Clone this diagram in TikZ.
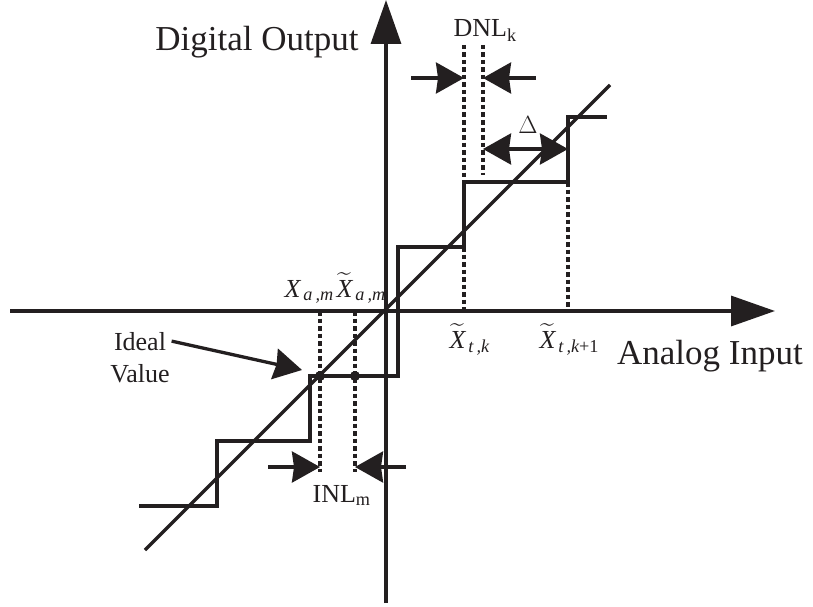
\documentclass[tikz,border=0pt]{standalone}
\usepackage{amsmath}
\usepackage{fontspec}
\setmainfont{Liberation Serif}
\usetikzlibrary{arrows.meta, positioning}
\definecolor{cink}{HTML}{231F20}
\tikzset{
  every picture/.style={line width=3.3pt, draw=cink, text=cink},
  axis/.style={-{Triangle[length=44pt, width=30pt]}, draw=cink, line width=3.3pt},
  stair/.style={draw=cink, line width=3.3pt, line join=miter},
  guide/.style={draw=cink, line width=3.3pt, dash pattern=on 4.5pt off 3pt},
  pinch/.style={-{Stealth[length=28pt, width=31pt, inset=2pt]}, draw=cink, line width=3.3pt},
  span/.style={{Stealth[length=28pt, width=31pt, inset=2pt]}-{Stealth[length=28pt, width=31pt, inset=2pt]}, draw=cink, line width=3.3pt},
  title/.style={font=\fontsize{35}{40}\selectfont, inner sep=0pt},
  label/.style={font=\fontsize{26}{32}\selectfont, inner sep=0pt},
}

\begin{document}
\begin{tikzpicture}[x=1pt, y=-1pt]
  \useasboundingbox (0,0) rectangle (813,607);
  \draw[axis] (10,311) -- (775,311);
  \draw[axis] (386,603) -- (386,0);
  \draw[stair] (139,506) -- (217,506) -- (217,441) -- (310,441) -- (310,376) -- (398,376) -- (398,247) -- (464,247) -- (464,182) -- (568,182) -- (568,117) -- (607,117);
  \draw[stair] (145,550) -- (610,85);
  \draw[guide] (464,45) -- (464,180);
  \draw[guide] (483,45) -- (483,175);
  \draw[guide] (464,247) -- (464,311);
  \draw[guide] (568,182) -- (568,311);
  \draw[guide] (320,311) -- (320,472);
  \draw[guide] (355,311) -- (355,472);
  \fill[cink] (320,376) circle (5pt);
  \fill[cink] (355,376) circle (5pt);
  \draw[pinch] (411,78) -- (464,78);
  \draw[pinch] (536,78) -- (483,78);
  \draw[span] (483,149) -- (568,149);
  \draw[pinch] (268,467) -- (320,467);
  \draw[pinch] (406,467) -- (355,467);

  \node[title] (yname) at (257,42) {Digital Output};
  \node[title] (xname) at (710,356) {Analog Input};
  \node[label, anchor=base west] (dnl) at (452,37) {DNL\textsubscript{k}};
  \node[label, anchor=base west] (inl) at (311,502) {INL\textsubscript{m}};
  \node[label, anchor=base] (delta) at (528,133) {$\Delta$};
  \node[label, anchor=base] (ideal) at (140,350) {Ideal};
  \node[label, anchor=base] (value) at (140,382) {Value};
  \node[label, anchor=base west] (xam) at (283,297) {$\textit{X}_{\,\textit{a\,,m}}$};
  \node[label, anchor=base west] (xtam) at (335,297) {$\widetilde{\textit{X}}_{\,\textit{a\,,m}}$};
  \node[label, anchor=base west] (xtk) at (448,348) {$\widetilde{\textit{X}}_{\,\textit{t\,,k}}$};
  \node[label, anchor=base west] (xtk1) at (538,348) {$\widetilde{\textit{X}}_{\,\textit{t\,,k}\text{+1}}$};
  \coordinate (ipt) at (302,370);
  \draw[pinch] ([xshift=4pt]ideal.east) -- (ipt);
\end{tikzpicture}
\end{document}
